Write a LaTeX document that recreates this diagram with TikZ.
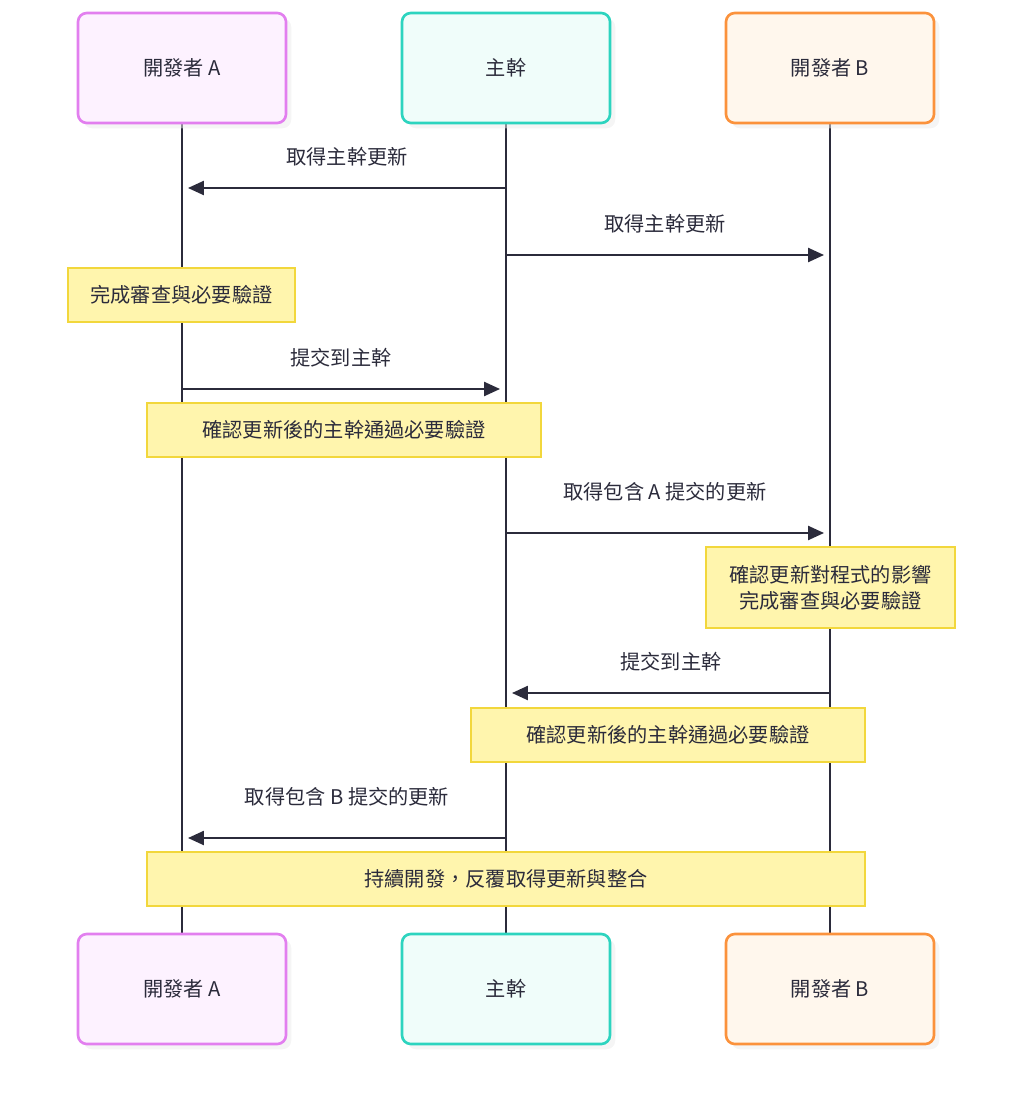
\documentclass[tikz,border=0pt]{standalone}
\usepackage{fontspec}
\setmainfont{Noto Sans CJK TC}
\usetikzlibrary{arrows.meta,positioning}
\definecolor{aline}{HTML}{E27FEF}\definecolor{afill}{HTML}{FDF2FF}
\definecolor{tline}{HTML}{2DD4BF}\definecolor{tfill}{HTML}{F0FDFA}
\definecolor{bline}{HTML}{FB923C}\definecolor{bfill}{HTML}{FFF7ED}
\definecolor{nline}{HTML}{F2D73C}\definecolor{nfill}{HTML}{FFF5AD}
\definecolor{ink}{HTML}{2B2B3B}
\tikzset{
  actor/.style={draw=#1line, fill=#1fill, line width=1.5pt, rounded corners=5pt,
    minimum width=4.16cm, minimum height=2.2cm,
    drop shadow={shadow xshift=3pt, shadow yshift=-3pt, fill=black!8}},
  note/.style={draw=nline, fill=nfill, line width=0.6pt, minimum height=1.08cm,
    align=center, inner sep=0pt},
  msg/.style={-{Triangle[length=9pt,width=8pt]}, line width=1pt, draw=ink},
  life/.style={line width=1.5pt, draw=ink},
}
\usetikzlibrary{shadows}
\begin{document}
\begin{tikzpicture}[font=\fontsize{11.5}{15}\selectfont, text=ink]
  \useasboundingbox (0,0) rectangle (20.48,-22);
  % lifelines
  \draw[life] (3.64,-2.46) -- (3.64,-18.68);
  \draw[life] (10.12,-2.46) -- (10.12,-18.68);
  \draw[life] (16.6,-2.46) -- (16.6,-18.68);
  % actors
  \node[actor=a] (A)  at (3.64,-1.36) {開發者 A};
  \node[actor=t] (T)  at (10.12,-1.36) {主幹};
  \node[actor=b] (B)  at (16.6,-1.36) {開發者 B};
  \node[actor=a] (A2) at (3.64,-19.78) {開發者 A};
  \node[actor=t] (T2) at (10.12,-19.78) {主幹};
  \node[actor=b] (B2) at (16.6,-19.78) {開發者 B};
  % message points
  \coordinate (t1) at (10.12,-3.76); \coordinate (a1) at (3.76,-3.76);
  \coordinate (t2) at (10.12,-5.1);  \coordinate (b2) at (16.48,-5.1);
  \coordinate (a3) at (3.64,-7.78);  \coordinate (t3) at (10.0,-7.78);
  \coordinate (t4) at (10.12,-10.66); \coordinate (b4) at (16.48,-10.66);
  \coordinate (b5) at (16.6,-13.86); \coordinate (t5) at (10.24,-13.86);
  \coordinate (t6) at (10.12,-16.76); \coordinate (a6) at (3.76,-16.76);
  \draw[msg] (t1) -- node[above=0.3cm] {取得主幹更新} (a1);
  \draw[msg] (t2) -- node[above=0.3cm] {取得主幹更新} (b2);
  \draw[msg] (a3) -- node[above=0.3cm] {提交到主幹} (t3);
  \draw[msg] (t4) -- node[above=0.5cm] {取得包含 A 提交的更新} (b4);
  \draw[msg] (b5) -- node[above=0.3cm] {提交到主幹} (t5);
  \draw[msg] (t6) -- node[above=0.5cm] {取得包含 B 提交的更新} (a6);
  % notes
  \node[note, minimum width=4.54cm] (n1) at (3.63,-5.9) {完成審查與必要驗證};
  \node[note, minimum width=7.88cm] (n2) at (6.88,-8.6) {確認更新後的主幹通過必要驗證};
  \node[note, minimum width=4.98cm, minimum height=1.62cm] (n3) at (16.61,-11.75) {確認更新對程式的影響\\完成審查與必要驗證};
  \node[note, minimum width=7.88cm] (n4) at (13.36,-14.7) {確認更新後的主幹通過必要驗證};
  \node[note, minimum width=14.36cm] (n5) at (10.12,-17.58) {持續開發，反覆取得更新與整合};
\end{tikzpicture}
\end{document}
